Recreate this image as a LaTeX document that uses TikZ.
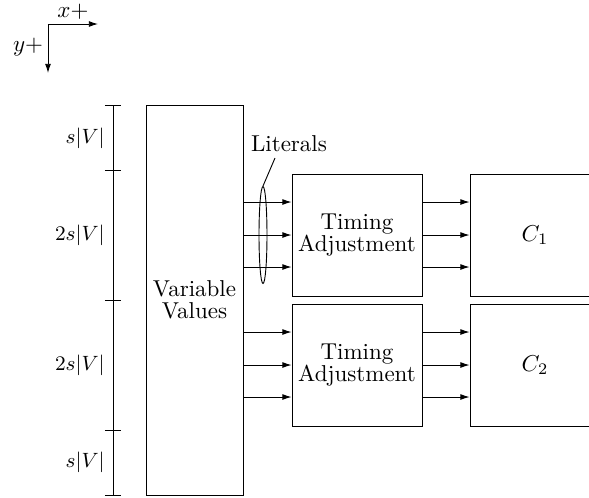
\documentclass[tikz,border=0pt]{standalone}
\usepackage{amsmath,amssymb}
\usepackage{tikz}
\usetikzlibrary{arrows.meta,positioning,shapes.geometric,calc}

\begin{document}
\def\u{0.435pt}
\begin{tikzpicture}[
  x=\u, y=-\u,
  box/.style={
    draw,
    line width=0.4pt,
    inner sep=0pt,
    align=center
  },
  sig/.style={-{Latex[length=4pt,width=2.6pt]}, line width=0.4pt},
  dim/.style={line width=0.4pt},
  dimlabel/.style={anchor=east, inner sep=0pt, font=\fontsize{8.8}{10}\selectfont},
  font=\fontsize{10}{9.5}\selectfont
]
\clip (0,0) rectangle (589,497);

\coordinate (orig) at (48,24);
\coordinate (xend) at (98,24);
\coordinate (yend) at (48,73);
\draw[sig] (orig) -- (xend);
\draw[sig] (orig) -- (yend);
\node (xlbl) at (73,12) {$x+$};
\node (ylbl) at (28,47) {$y+$};

\def\XBar{113}
\draw[dim] (\XBar,105) -- (\XBar,495);
\foreach \y in {105,170,300,430,495}
  \draw[dim] (\XBar-8,\y) -- (\XBar+8,\y);
\node[dimlabel] (d1) at (105,138) {$s|V|$};
\node[dimlabel] (d2) at (105,235) {$2s|V|$};
\node[dimlabel] (d3) at (105,365) {$2s|V|$};
\node[dimlabel] (d4) at (105,462) {$s|V|$};

\node[box, minimum width=97*\u, minimum height=390*\u] (vals) at (194.5,300) {Variable\\Values};
\node[box, minimum width=130*\u, minimum height=122*\u] (adj1) at (357,235) {Timing\\Adjustment};
\node[box, minimum width=130*\u, minimum height=122*\u] (adj2) at (357,365) {Timing\\Adjustment};
\node[box, minimum width=130*\u, minimum height=122*\u] (circ1) at (535,235) {$C_1$};
\node[box, minimum width=130*\u, minimum height=122*\u] (circ2) at (535,365) {$C_2$};

\foreach \dy in {-33,0,32} {
  \coordinate (in1) at ($(adj1.west)+(0,\dy)$);
  \coordinate (in2) at ($(adj2.west)+(0,\dy)$);
  \coordinate (out1) at ($(adj1.east)+(0,\dy)$);
  \coordinate (out2) at ($(adj2.east)+(0,\dy)$);
  \draw[sig] (vals.east |- in1) -- (in1);
  \draw[sig] (vals.east |- in2) -- (in2);
  \draw[sig] (out1) -- (circ1.west |- out1);
  \draw[sig] (out2) -- (circ2.west |- out2);
}

\node[draw, ellipse, line width=0.4pt, inner sep=0pt, minimum width=8*\u, minimum height=97*\u] (lits) at (263,235) {};
\node (litlbl) at (289,144) {Literals};
\coordinate (littip) at (275,158);
\draw[line width=0.4pt] (lits.north) -- (littip);
\end{tikzpicture}
\end{document}
